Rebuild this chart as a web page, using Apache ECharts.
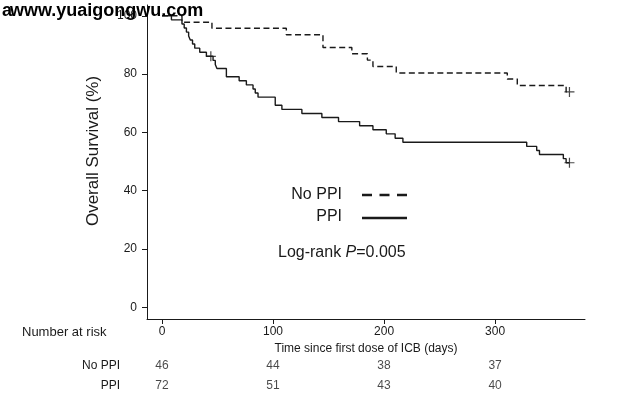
<!DOCTYPE html>
<html>
<head>
<meta charset="utf-8">
<script src="https://cdn.jsdelivr.net/npm/echarts@6/dist/echarts.min.js"></script>
<style>
  html, body { margin: 0; padding: 0; background: #fff; }
  #chart { width: 630px; height: 399px; }
</style>
</head>
<body>
<div id="chart"></div>
<script>
// Kaplan-Meier curves, survival (%) after each event time (days)
var noPpiTime = [0, 18, 45, 112, 145, 171, 185, 190, 211, 311, 320, 364, 367];
var noPpiSurv = [100, 97.8, 95.7, 93.5, 89.1, 87.0, 84.8, 82.6, 80.4, 78.3, 76.1, 73.9, 73.9];

var ppiTime = [0, 8.5, 18, 20, 22, 24, 25.5, 27.5, 29.5, 34, 40, 46, 48, 49.5, 58, 69.5, 76, 82, 84, 86.5,
    102, 108, 126, 144, 159, 178, 190, 202, 210, 217, 328.5, 337.5, 340, 361.5, 364, 367];
var ppiSurv = [100, 98.6, 97.2, 95.8, 94.4, 93.1, 91.7, 90.3, 88.9, 87.5, 86.1, 84.7, 83.3, 81.9, 79.1, 77.7, 76.3, 74.9, 73.5, 72.1,
    69.3, 67.9, 66.5, 65.1, 63.7, 62.3, 60.9, 59.5, 58.0, 56.6, 55.2, 53.8, 52.4, 51.0, 49.6, 49.6];

// censored observations [time, survival]
var noPpiCensor = [[367, 73.9]];
var ppiCensor = [[44, 86.1], [367, 49.6]];

// number at risk table
var riskTimes = [0, 100, 200, 300];
var noPpiRisk = [46, 44, 38, 37];
var ppiRisk = [72, 51, 43, 40];

var xTicks = [0, 100, 200, 300];
var yTicks = [0, 20, 40, 60, 80, 100];

var font = 'Arial, "Liberation Sans", Helvetica, sans-serif';
var ink = '#1a1a1a';
var plusSymbol = 'path://M4.4,0h1.2v4.4h4.4v1.2h-4.4v4.4h-1.2v-4.4h-4.4v-1.2h4.4z';

function zip(a, b) {
    var out = [];
    for (var i = 0; i < a.length; i++) out.push([a[i], b[i]]);
    return out;
}

function riskData(counts) {
    var out = [];
    for (var i = 0; i < riskTimes.length; i++) out.push([riskTimes[i], 0, counts[i]]);
    return out;
}

var xMin = -13.5, xMax = 381;

var chart = echarts.init(document.getElementById('chart'));
chart.setOption({
    animation: false,
    backgroundColor: '#fff',
    textStyle: { fontFamily: font },
    grid: [
        { left: 147, right: 45, top: 5, bottom: 80 },
        { left: 147, right: 45, top: 358, height: 16 },
        { left: 147, right: 45, top: 378, height: 16 }
    ],
    xAxis: [
        {
            type: 'value', gridIndex: 0, min: xMin, max: xMax,
            name: 'Time since first dose of ICB (days)', nameLocation: 'middle', nameGap: 24,
            nameTextStyle: { fontSize: 12, color: ink, fontFamily: font },
            axisLine: { onZero: false, lineStyle: { color: ink, width: 1 } },
            axisTick: { show: true, length: 5, customValues: xTicks, lineStyle: { color: ink } },
            axisLabel: { customValues: xTicks, fontSize: 12, color: ink, margin: 7 },
            splitLine: { show: false }
        },
        { type: 'value', gridIndex: 1, min: xMin, max: xMax, show: false },
        { type: 'value', gridIndex: 2, min: xMin, max: xMax, show: false }
    ],
    yAxis: [
        {
            type: 'value', gridIndex: 0, min: -4, max: 103.7,
            name: 'Overall Survival (%)', nameLocation: 'middle', nameGap: 45,
            nameTextStyle: { fontSize: 17, color: ink, fontFamily: font, padding: [0, 0, 0, 22] },
            axisLine: { show: true, onZero: false, lineStyle: { color: ink, width: 1 } },
            axisTick: { show: true, length: 5, customValues: yTicks, lineStyle: { color: ink } },
            axisLabel: { customValues: yTicks, fontSize: 12, color: ink, margin: 10 },
            splitLine: { show: false }
        },
        {
            type: 'category', gridIndex: 1, data: ['No PPI'],
            axisLine: { show: false }, axisTick: { show: false },
            axisLabel: { fontSize: 12, color: ink, margin: 27 }
        },
        {
            type: 'category', gridIndex: 2, data: ['PPI'],
            axisLine: { show: false }, axisTick: { show: false },
            axisLabel: { fontSize: 12, color: ink, margin: 27 }
        }
    ],
    series: [
        {
            name: 'No PPI', type: 'line', step: 'end', symbol: 'none',
            data: zip(noPpiTime, noPpiSurv),
            lineStyle: { color: ink, width: 1.4, type: [6, 3.5] }
        },
        {
            name: 'PPI', type: 'line', step: 'end', symbol: 'none',
            data: zip(ppiTime, ppiSurv),
            lineStyle: { color: ink, width: 1.4 }
        },
        {
            type: 'scatter', symbol: plusSymbol, symbolSize: 10,
            data: noPpiCensor.concat(ppiCensor),
            itemStyle: { color: ink }
        },
        {
            type: 'scatter', xAxisIndex: 1, yAxisIndex: 1, symbolSize: 1,
            data: riskData(noPpiRisk),
            itemStyle: { color: 'transparent' },
            label: { show: true, position: 'inside', color: ink, fontSize: 12,
                formatter: function (p) { return p.data[2]; } }
        },
        {
            type: 'scatter', xAxisIndex: 2, yAxisIndex: 2, symbolSize: 1,
            data: riskData(ppiRisk),
            itemStyle: { color: 'transparent' },
            label: { show: true, position: 'inside', color: ink, fontSize: 12,
                formatter: function (p) { return p.data[2]; } }
        }
    ],
    graphic: [
        // legend inside the plot
        { type: 'text', right: 630 - 342, top: 187,
          style: { text: 'No PPI', font: '16px ' + font, fill: ink, textAlign: 'right' } },
        { type: 'line', shape: { x1: 362, y1: 195, x2: 407, y2: 195 },
          style: { stroke: ink, lineWidth: 2.5, lineDash: [10, 7.5] } },
        { type: 'text', right: 630 - 342, top: 209,
          style: { text: 'PPI', font: '16px ' + font, fill: ink, textAlign: 'right' } },
        { type: 'line', shape: { x1: 362, y1: 218, x2: 407, y2: 218 },
          style: { stroke: ink, lineWidth: 2.5 } },
        { type: 'text', left: 278, top: 245,
          style: { text: 'Log-rank {i|P}=0.005', font: '16px ' + font, fill: ink,
                   rich: { i: { fontStyle: 'italic', fontSize: 16, fontFamily: font } } } },
        { type: 'text', left: 22, top: 326,
          style: { text: 'Number at risk', font: '13px ' + font, fill: ink } },
        // watermark over the top left corner
        { type: 'text', left: 2, top: 2, z: 100,
          style: { text: 'a', font: 'bold 18px ' + font, fill: '#000' } },
        { type: 'text', left: 10, top: 2, z: 100,
          style: { text: 'www.yuaigongwu.com', font: 'bold 18px ' + font, fill: '#000' } }
    ]
});
</script>
</body>
</html>
